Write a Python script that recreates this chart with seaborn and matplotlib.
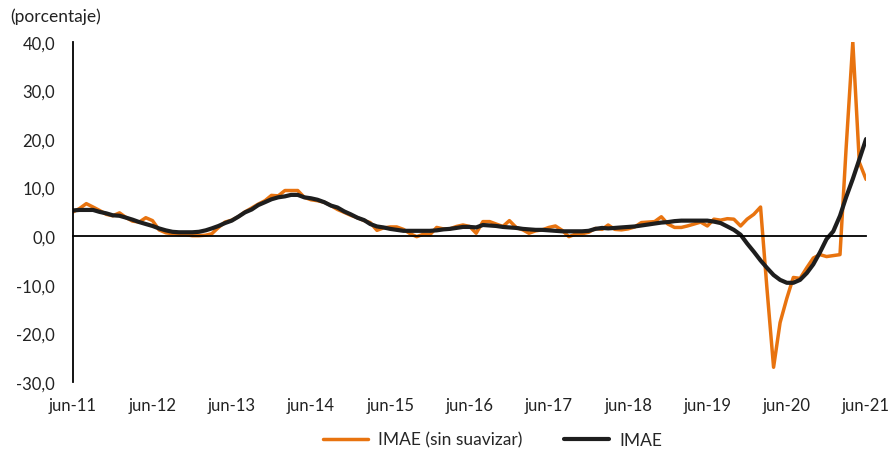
import matplotlib
matplotlib.use("Agg")

import matplotlib.pyplot as plt
import seaborn as sns
import pandas as pd

# ── Data (monthly, jun-11 .. jun-21) ────────────────────────────────────────
months = pd.date_range("2011-06-01", "2021-06-01", freq="MS")

imae_raw = [
    5.0, 5.7, 6.7, 6.0, 5.3, 4.5, 4.2, 4.8, 3.8, 3.1, 2.9, 3.8,
    3.2, 1.3, 0.7, 0.5, 0.3, 0.3, 0.1, 0.1, 0.2, 0.5, 1.8, 2.9,
    3.3, 4.0, 5.0, 5.8, 6.6, 7.3, 8.4, 8.3, 9.4, 9.4, 9.4, 8.0,
    7.5, 7.3, 7.0, 6.3, 5.5, 4.9, 4.3, 3.8, 3.2, 2.8, 1.2, 1.7,
    1.9, 1.9, 1.4, 0.5, -0.1, 0.4, 0.3, 1.8, 1.5, 1.5, 2.0, 2.3,
    2.0, 0.6, 3.0, 3.0, 2.5, 2.0, 3.2, 1.8, 1.3, 0.6, 1.1, 1.3,
    1.8, 2.1, 1.2, -0.1, 0.4, 0.5, 0.8, 1.6, 1.4, 2.3, 1.4, 1.3,
    1.5, 1.9, 2.8, 2.9, 3.0, 4.0, 2.5, 1.8, 1.8, 2.1, 2.5, 2.9,
    2.1, 3.5, 3.3, 3.6, 3.5, 2.1, 3.5, 4.5, 6.0, -10.5, -27.0, -17.8,
    -12.8, -8.5, -8.7, -6.5, -4.5, -3.8, -4.2, -4.0, -3.8, 18.0, 40.0, 15.2,
    11.7,
]

imae_smooth = [
    5.3, 5.4, 5.4, 5.4, 5.0, 4.7, 4.3, 4.2, 3.8, 3.4, 2.9, 2.5,
    2.1, 1.6, 1.2, 0.9, 0.8, 0.8, 0.8, 0.9, 1.2, 1.6, 2.1, 2.7,
    3.2, 4.0, 4.9, 5.5, 6.4, 7.0, 7.6, 8.0, 8.2, 8.5, 8.5, 8.0,
    7.8, 7.5, 7.0, 6.3, 5.9, 5.1, 4.5, 3.8, 3.3, 2.5, 2.0, 1.8,
    1.5, 1.3, 1.1, 1.1, 1.1, 1.1, 1.1, 1.2, 1.4, 1.5, 1.7, 1.9,
    1.9, 1.8, 2.3, 2.2, 2.1, 1.9, 1.8, 1.7, 1.5, 1.4, 1.3, 1.3,
    1.2, 1.1, 1.0, 1.0, 1.0, 1.0, 1.1, 1.5, 1.7, 1.6, 1.7, 1.8,
    1.9, 2.0, 2.2, 2.4, 2.6, 2.8, 2.9, 3.1, 3.2, 3.2, 3.2, 3.2,
    3.2, 3.0, 2.7, 2.0, 1.3, 0.3, -1.5, -3.2, -5.0, -6.5, -8.0, -9.0,
    -9.6, -9.6, -9.0, -7.6, -5.8, -3.3, -0.6, 1.0, 4.2, 8.0, 11.8, 15.8,
    20.0,
]

series_names = ["IMAE (sin suavizar)", "IMAE"]
y_ticks = [-30, -20, -10, 0, 10, 20, 30, 40]
x_ticks = pd.date_range("2011-06-01", "2021-06-01", freq="12MS")
x_labels = [f"jun-{d:%y}" for d in x_ticks]

ORANGE = "#E8730F"
BLACK = "#1E1E1E"
WIDTHS = {series_names[0]: 2.5, series_names[1]: 3.0}

# ── Style ───────────────────────────────────────────────────────────────────
sns.set_style("white")
plt.rcParams["font.family"] = ["Lato", "DejaVu Sans"]
plt.rcParams["font.size"] = 12

df = pd.concat([
    pd.DataFrame({"mes": months, "valor": imae_raw, "serie": series_names[0]}),
    pd.DataFrame({"mes": months, "valor": imae_smooth, "serie": series_names[1]}),
])

fig = plt.figure(figsize=(8.91, 4.52), dpi=100)
ax = fig.add_axes([0.082, 0.153, 0.890, 0.752])

sns.lineplot(data=df, x="mes", y="valor", hue="serie", ax=ax,
             palette={series_names[0]: ORANGE, series_names[1]: BLACK},
             linewidth=2.5, legend=True)
for line, name in zip(ax.lines, series_names):
    line.set_linewidth(WIDTHS[name])

ax.set_xlim(months[0], months[-1])
ax.set_ylim(-30, 40)
ax.set_yticks(y_ticks)
ax.set_yticklabels([f"{v:.1f}".replace(".", ",") for v in y_ticks])
ax.set_xlabel("")
ax.set_ylabel("")

# zero line acts as the x axis, labels sit at the bottom
ax.spines[["top", "right"]].set_visible(False)
ax.spines["bottom"].set_position(("data", 0))
for s in ("bottom", "left"):
    ax.spines[s].set_color("black")
    ax.spines[s].set_linewidth(1.3)
ax.set_xticks(x_ticks)
ax.tick_params(axis="x", direction="in", length=5, width=1.3, color="black",
               labelbottom=False)
ax.tick_params(axis="y", direction="in", length=5, width=1.3, color="black",
               pad=13, labelsize=12, labelcolor="#222222")

sec = ax.secondary_xaxis(0)
sec.set_xticks(x_ticks)
sec.set_xticklabels(x_labels)
sec.spines["bottom"].set_visible(False)
sec.tick_params(length=0, pad=11, labelsize=12, labelcolor="#222222")

fig.text(0.012, 0.962, "(porcentaje)", fontsize=12.5, color="#222222",
         ha="left", va="center")

handles, labels = ax.get_legend_handles_labels()
for h, lab in zip(handles, labels):
    h.set_linewidth(WIDTHS[lab])
ax.legend_.remove()
fig.legend(handles, labels, loc="center", bbox_to_anchor=(0.553, 0.025),
           ncol=2, frameon=False, fontsize=12.5, handlelength=2.6,
           columnspacing=2.4, handletextpad=0.6)

fig.savefig("out.png", dpi=100, facecolor="white")
